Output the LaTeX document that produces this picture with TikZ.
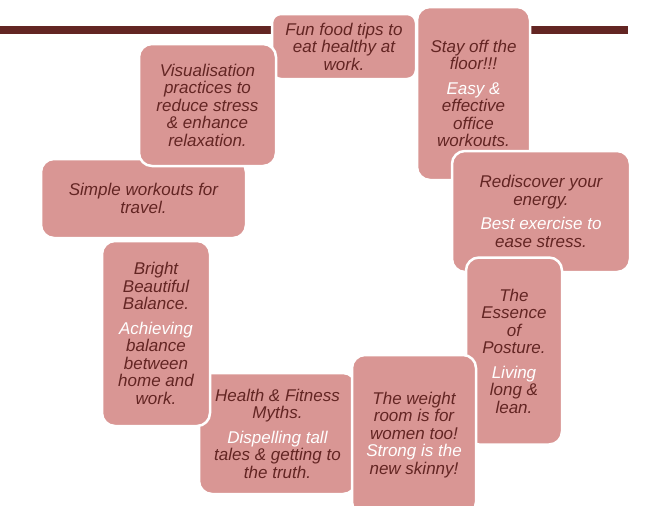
\documentclass[tikz,border=0pt]{standalone}
\usepackage{fontspec}
\setmainfont{Liberation Sans}
\definecolor{boxfill}{HTML}{D99694}
\definecolor{dk}{HTML}{632523}
\definecolor{barc}{HTML}{632523}
\begin{document}
\begin{tikzpicture}[x=1pt,y=-1pt,
  box/.style={draw=white, line width=2.5pt, fill=boxfill, rounded corners=13pt,
    align=center, inner sep=2pt, text=dk,
    font=\fontsize{17}{17.5}\selectfont\itshape}]
\clip (0,0) rectangle (662,506);
\fill[barc] (0,26) rectangle (628,34);
\node[box, rounded corners=9pt, minimum width=144, minimum height=65] (fun) at (344,46.5)
  {Fun food tips to\\eat healthy at\\work.};
\node[box, minimum width=113, minimum height=173] (stay) at (473.5,93.5)
  {Stay off the\\floor!!!\\[7pt]\color{white}Easy \&\\effective\\office\\workouts.};
\node[box, minimum width=178, minimum height=121] (redis) at (541,211.5)
  {Rediscover your\\energy.\\[7pt]\color{white}Best exercise to\\ease stress.};
\node[box, minimum width=96, minimum height=187] (ess) at (514,351)
  {The\\Essence\\of\\Posture.\\[7pt]\color{white}Living\\long \&\\lean.};
\node[box, minimum width=157, minimum height=121] (health) at (277.5,433.5)
  {Health \& Fitness\\Myths.\\[7pt]\color{white}Dispelling tall\\tales \& getting to\\the truth.};
\node[box, minimum width=124, minimum height=160] (weight) at (414,435)
  {The weight\\room is for\\women too!\\\color{white}Strong is the\\new skinny!};
\node[box, minimum width=108, minimum height=185] (bright) at (156,333.5)
  {Bright\\Beautiful\\Balance.\\[7pt]\color{white}Achieving\\balance\\between\\home and\\work.};
\node[box, minimum width=205, minimum height=79] (simple) at (143.5,198.5)
  {Simple workouts for\\travel.};
\node[box, minimum width=137, minimum height=122] (visual) at (207.5,105)
  {Visualisation\\practices to\\reduce stress\\\& enhance\\relaxation.};
\end{tikzpicture}
\end{document}
